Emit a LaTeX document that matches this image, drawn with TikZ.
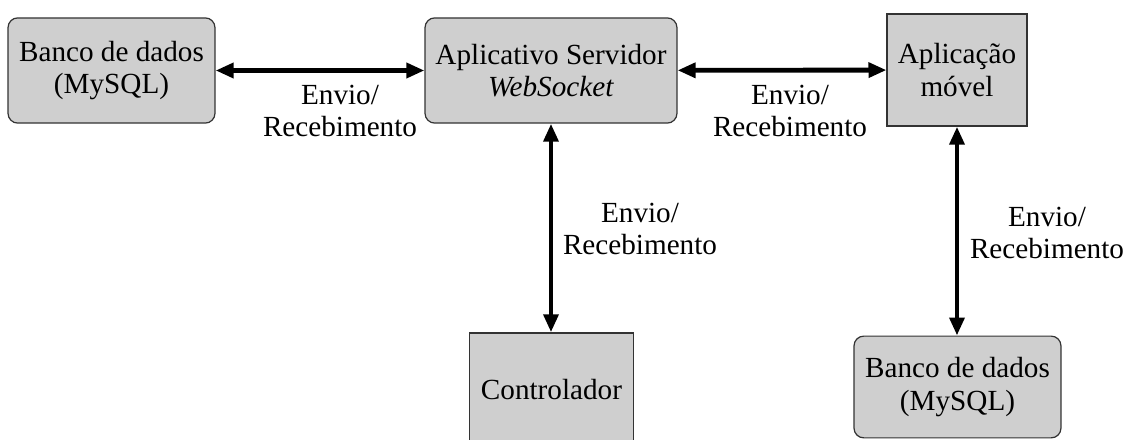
\documentclass[tikz,border=0pt]{standalone}
\usepackage{fontspec}
\setmainfont{Liberation Serif}
\usepackage{xcolor}
\definecolor{boxFill}{HTML}{CFCFCF}
\definecolor{boxBorder}{HTML}{333333}
\usetikzlibrary{arrows.meta,positioning}
\tikzset{
    bloco/.style={
        draw=boxBorder,
        fill=boxFill,
        rectangle,
        align=center,
        line width=0.5pt,
        inner sep=2pt,
        font=\fontsize{12pt}{13.4pt}\selectfont
    },
    blocoround/.style={
        bloco,
        rounded corners=1.4mm
    },
    seta/.style={
        {Triangle[length=7.4pt,width=6pt]}-{Triangle[length=7.4pt,width=6pt]},
        line width=2pt,
        color=black
    },
    rotulo/.style={
        align=center,
        inner sep=1pt,
        font=\fontsize{12pt}{13.2pt}\selectfont
    }
}
\begin{document}
\begin{tikzpicture}[x=0.01445cm, y=-0.01445cm]
    \useasboundingbox (0,0) rectangle (1127,440);
    % blocos
    \node[blocoround, minimum width=2.99cm, minimum height=1.52cm] (banco1) at (111.5,70.5) {Banco de dados\\(MySQL)};
    \node[blocoround, minimum width=3.64cm, minimum height=1.52cm] (servidor) at (551,70.5) {Aplicativo Servidor\\\textit{WebSocket}};
    \node[bloco, minimum width=2.02cm, minimum height=1.62cm] (movel) at (957,70) {Aplica\c{c}\~ao\\m\'ovel};
    \node[bloco, minimum width=2.36cm, minimum height=1.65cm] (controlador) at (551.5,390) {Controlador};
    \node[blocoround, minimum width=2.99cm, minimum height=1.47cm] (banco2) at (957.5,387) {Banco de dados\\(MySQL)};

    % conexoes
    \draw[seta] (banco1) -- (servidor);
    \draw[seta] (servidor) -- (movel);
    \draw[seta] (servidor) -- (servidor |- controlador.north);
    \draw[seta] (movel) -- (movel |- banco2.north);

    % rotulos
    \node[rotulo] (r1) at (340,111) {Envio/\\Recebimento};
    \node[rotulo] (r2) at (790,111) {Envio/\\Recebimento};
    \node[rotulo] (r3) at (640,229) {Envio/\\Recebimento};
    \node[rotulo] (r4) at (1047,233) {Envio/\\Recebimento};
\end{tikzpicture}
\end{document}
